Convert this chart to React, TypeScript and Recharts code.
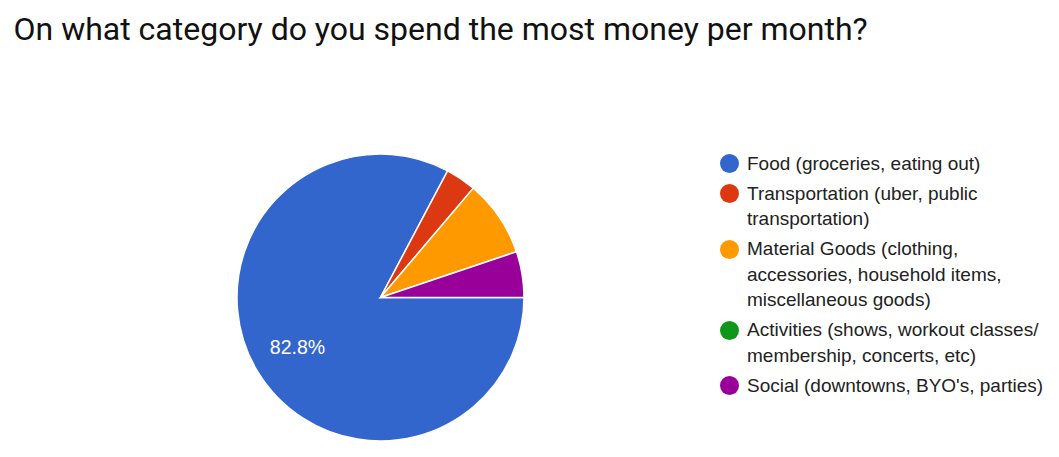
import React from "react";
import { PieChart, Pie, Cell, Legend } from "recharts";

const categories = [
  "Food (groceries, eating out)",
  "Transportation (uber, public transportation)",
  "Material Goods (clothing, accessories, household items, miscellaneous goods)",
  "Activities (shows, workout classes/ membership, concerts, etc)",
  "Social (downtowns, BYO's, parties)",
];
const legendLines = [
  ["Food (groceries, eating out)"],
  ["Transportation (uber, public", "transportation)"],
  ["Material Goods (clothing,", "accessories, household items,", "miscellaneous goods)"],
  ["Activities (shows, workout classes/", "membership, concerts, etc)"],
  ["Social (downtowns, BYO's, parties)"],
];
const counts = [48, 2, 5, 0, 3];
const colors = ["#3366cc", "#dc3912", "#ff9900", "#109618", "#990099"];

const data = categories.map((name, i) => ({ name, value: counts[i] }));

const RAD = Math.PI / 180;

const renderLabel = (props: any) => {
  const { cx, cy, midAngle, outerRadius, percent } = props;
  if (percent < 0.1) return null;
  const r = outerRadius * 0.675;
  const x = cx + r * Math.cos(-midAngle * RAD);
  const y = cy + r * Math.sin(-midAngle * RAD);
  return (
    <text
      x={x}
      y={y}
      fill="#ffffff"
      textAnchor="middle"
      dominantBaseline="central"
      fontFamily="Arial, 'Liberation Sans', sans-serif"
      fontSize={19.5}
    >
      {(percent * 100).toFixed(1) + "%"}
    </text>
  );
};

const LegendContent = () => (
  <div style={{ fontFamily: "Arial, 'Liberation Sans', sans-serif", fontSize: 19, color: "#222222" }}>
    {legendLines.map((lines, i) => (
      <div key={i} style={{ position: "relative", paddingLeft: 28, marginBottom: 4.5, lineHeight: "25.5px" }}>
        <span
          style={{
            position: "absolute",
            left: 0.5,
            top: 3.5,
            width: 19,
            height: 19,
            borderRadius: 9.5,
            background: colors[i],
          }}
        />
        {lines.map((l, j) => (
          <div key={j} style={{ whiteSpace: "nowrap" }}>{l}</div>
        ))}
      </div>
    ))}
  </div>
);

export default function App() {
  return (
    <div style={{ position: "absolute", left: 0, top: 0, width: 1059, height: 457, background: "#ffffff" }}>
      <div
        style={{
          position: "absolute",
          left: 13.5,
          top: 8.5,
          fontFamily: "Roboto, Arial, sans-serif",
          fontSize: 32,
          color: "#111111",
          whiteSpace: "nowrap",
          lineHeight: "40px",
        }}
      >
        On what category do you spend the most money per month?
      </div>
      <div style={{ position: "absolute", left: 0, top: 0 }}>
        <PieChart width={1059} height={457} margin={{ top: 0, right: 0, bottom: 0, left: 0 }}>
          <Pie
            data={data}
            dataKey="value"
            nameKey="name"
            cx={380.5}
            cy={297.5}
            outerRadius={143.5}
            startAngle={0}
            endAngle={-360}
            stroke="#ffffff"
            strokeWidth={1.5}
            label={renderLabel}
            labelLine={false}
            isAnimationActive={false}
          >
            {data.map((d, i) => (
              <Cell key={d.name} fill={colors[i]} />
            ))}
          </Pie>
          <Legend
            layout="vertical"
            content={<LegendContent />}
            wrapperStyle={{ position: "absolute", left: 719, top: 150.6, width: 340 }}
          />
        </PieChart>
      </div>
    </div>
  );
}
